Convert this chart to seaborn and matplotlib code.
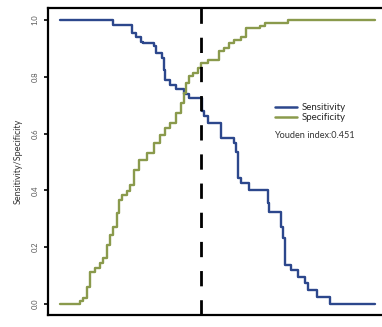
import matplotlib
matplotlib.use("Agg")
import matplotlib.pyplot as plt
import seaborn as sns
import pandas as pd

# threshold (normalised cut-off) and curve values
sens_threshold = [0.000, 0.169, 0.229, 0.243, 0.256, 0.264, 0.298, 0.304, 0.325, 0.330,
                  0.335, 0.351, 0.367, 0.393, 0.409, 0.450, 0.458, 0.469, 0.511, 0.554,
                  0.559, 0.565, 0.575, 0.602, 0.660, 0.665, 0.703, 0.708, 0.716, 0.735,
                  0.756, 0.777, 0.788, 0.815, 0.857, 1.000]
sensitivity = [1.000, 0.982, 0.953, 0.941, 0.924, 0.918, 0.908, 0.885, 0.865, 0.824,
               0.789, 0.771, 0.756, 0.740, 0.725, 0.680, 0.660, 0.636, 0.583, 0.565,
               0.536, 0.442, 0.425, 0.401, 0.354, 0.325, 0.272, 0.231, 0.137, 0.120,
               0.096, 0.073, 0.049, 0.026, 0.000, 0.000]

spec_threshold = [0.000, 0.064, 0.074, 0.085, 0.096, 0.112, 0.128, 0.138, 0.149, 0.160,
                  0.170, 0.181, 0.189, 0.197, 0.213, 0.224, 0.236, 0.250, 0.277, 0.298,
                  0.319, 0.335, 0.351, 0.367, 0.383, 0.394, 0.399, 0.410, 0.421, 0.437,
                  0.447, 0.469, 0.506, 0.522, 0.538, 0.554, 0.575, 0.591, 0.634, 0.650,
                  0.724, 1.000]
specificity = [0.000, 0.010, 0.020, 0.061, 0.114, 0.125, 0.143, 0.160, 0.208, 0.243,
               0.272, 0.319, 0.366, 0.384, 0.396, 0.419, 0.470, 0.507, 0.530, 0.565,
               0.595, 0.618, 0.636, 0.671, 0.706, 0.742, 0.777, 0.801, 0.812, 0.830,
               0.849, 0.859, 0.889, 0.900, 0.918, 0.930, 0.941, 0.970, 0.977, 0.988,
               1.000, 1.000]

optimal_cutoff = 0.447
youden_label = "Youden index:0.451"
y_ticks = [0.0, 0.2, 0.4, 0.6, 0.8, 1.0]
y_label = "Sensitivity/Specificity"

sens_color = "#2C478C"
spec_color = "#8A9A4C"

sns.set_style("ticks")
plt.rcParams["font.family"] = ["Lato", "DejaVu Sans"]

W, H = 382, 327
fig = plt.figure(figsize=(W / 100, H / 100), dpi=100)
ax = fig.add_axes([48 / W, (H - 315) / H, (W - 48) / W + 0.01, (315 - 8) / H])

df_sens = pd.DataFrame({"t": sens_threshold, "v": sensitivity})
df_spec = pd.DataFrame({"t": spec_threshold, "v": specificity})

sns.lineplot(data=df_sens, x="t", y="v", ax=ax, color=sens_color, lw=1.7,
             drawstyle="steps-post", estimator=None, label="Sensitivity")
sns.lineplot(data=df_spec, x="t", y="v", ax=ax, color=spec_color, lw=1.7,
             drawstyle="steps-post", estimator=None, label="Specificity")

ax.axvline(optimal_cutoff, color="black", lw=2.0, dashes=(5.5, 5))

ax.set_xlim(-0.038, 1.035)
ax.set_ylim(-0.039, 1.042)
ax.set_xticks([])
ax.set_yticks(y_ticks)
ax.set_yticklabels([f"{v:.1f}" for v in y_ticks], rotation=90, va="center",
                   fontsize=5.5, color="#555555")
ax.tick_params(axis="y", length=3, width=1.2, pad=4, color="black")
ax.set_xlabel("")
ax.set_ylabel(y_label, fontsize=6.5, color="#333333", labelpad=6)

for side in ["left", "bottom", "top"]:
    ax.spines[side].set_linewidth(1.6)
    ax.spines[side].set_color("black")
ax.spines["right"].set_visible(False)

leg = ax.legend(loc="upper left", bbox_to_anchor=((272 - 48) / (W - 48), 1 - (103 - 8) / (315 - 8)),
                frameon=False, fontsize=7, handlelength=2.3, handletextpad=0.5,
                labelspacing=0.15, borderpad=0.0, borderaxespad=0.0)
for line in leg.get_lines():
    line.set_linewidth(1.8)

fig.text(274 / W, 1 - 135 / H, youden_label, fontsize=6.6, color="#333333",
         ha="left", va="center")

fig.savefig("out.png", dpi=100)
